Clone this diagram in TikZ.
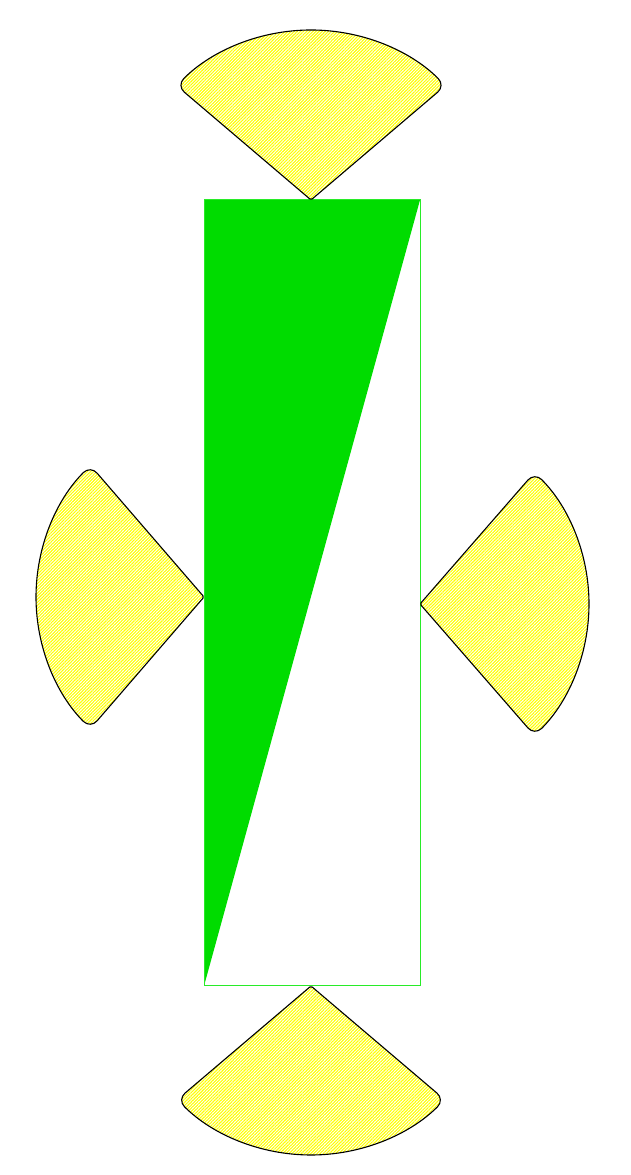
\documentclass[tikz,border=0pt]{standalone}
\usetikzlibrary{patterns.meta}
\definecolor{fillgreen}{RGB}{0,220,0}
\definecolor{edgegreen}{RGB}{40,235,40}
\tikzset{
  sectorstyle/.style={draw=black, line width=1.1pt,
    pattern={Lines[angle=45,distance=2.2pt,line width=1.1pt]}, pattern color=yellow},
  boxedge/.style={draw=edgegreen, line width=1pt},
}
\begin{document}
\begin{tikzpicture}[x=1pt,y=1pt]
\useasboundingbox (0,0) rectangle (631,1175);
% rectangle corners
\coordinate (bl) at (204,189);
\coordinate (br) at (420,189);
\coordinate (tl) at (204,975);
\coordinate (tr) at (420,975);
\fill[fillgreen] (tl) -- (tr) -- (bl) -- cycle;
\draw[boxedge] (bl) rectangle (tr);
% sector apexes
\coordinate (topapex) at (311,975);
\coordinate (botapex) at (311,189);
\coordinate (leftapex) at (204,578);
\coordinate (rightapex) at (420,571);
% top
\draw[sectorstyle] (311,1145) [rounded corners=10pt] arc[start angle=90,end angle=135,radius=190]
  [rounded corners=1.5pt] -- (topapex) [rounded corners=10pt] -- (445.35,1089.35) arc[start angle=45,end angle=90,radius=190];
% bottom
\draw[sectorstyle] (311,20) [rounded corners=10pt] arc[start angle=270,end angle=315,radius=189]
  [rounded corners=1.5pt] -- (botapex) [rounded corners=10pt] -- (177.36,75.36) arc[start angle=225,end angle=270,radius=189];
% left
\draw[sectorstyle] (36,578) [rounded corners=10pt] arc[start angle=180,end angle=225,radius=186]
  [rounded corners=1.5pt] -- (leftapex) [rounded corners=10pt] -- (90.48,709.52) arc[start angle=135,end angle=180,radius=186];
% right
\draw[sectorstyle] (589,571) [rounded corners=10pt] arc[start angle=0,end angle=45,radius=186]
  [rounded corners=1.5pt] -- (rightapex) [rounded corners=10pt] -- (534.52,439.48) arc[start angle=-45,end angle=0,radius=186];
\end{tikzpicture}
\end{document}
